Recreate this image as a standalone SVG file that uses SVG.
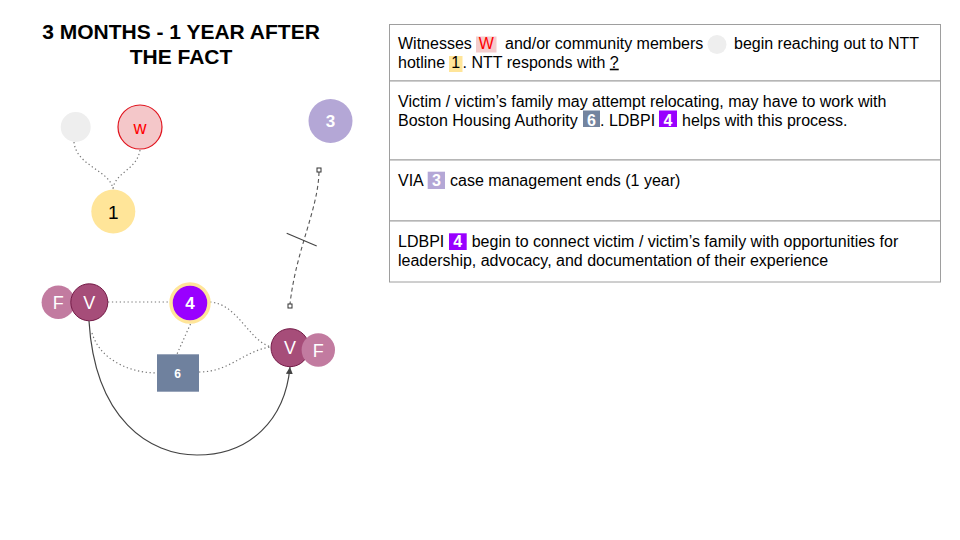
<svg xmlns="http://www.w3.org/2000/svg" width="960" height="540" viewBox="0 0 960 540">
<defs>
<style>
text{font-family:"Liberation Sans",Arial,sans-serif}
.title{font-size:21px;font-weight:bold;fill:#000;text-anchor:middle}
.t{font-size:16px;fill:#000}
.bw{font-size:16px;fill:#fff;font-weight:bold;text-anchor:middle}
.bk{font-size:16px;fill:#000;text-anchor:middle}
.nl{fill:#fff;text-anchor:middle}
.dot{fill:none;stroke:#777;stroke-width:1.2;stroke-dasharray:1.3 2.6}
.dash{fill:none;stroke:#555;stroke-width:1.1;stroke-dasharray:4 3}
.solid{fill:none;stroke:#444;stroke-width:1.2}
.vic{fill:#a64d79;stroke:#741b47;stroke-width:1}
.fam{fill:#c27ba0}
.cell{fill:#fff;stroke:#9e9e9e;stroke-width:1}
</style>
<marker id="arr" viewBox="0 0 10 10" refX="10" refY="5" markerWidth="7" markerHeight="7" markerUnits="userSpaceOnUse" orient="auto">
<path d="M0,0 L10,5 L0,10 z" fill="#444"/>
</marker>
</defs>
<rect width="960" height="540" fill="#fff"/>

<g id="title">
<text class="title" x="181" y="39">3 MONTHS - 1 YEAR AFTER</text>
<text class="title" x="181" y="64">THE FACT</text>
</g>

<g id="connectors">
<path class="dot" d="M74,142 C76,166 110,170 113,189"/>
<path class="dot" d="M140,150 C137,170 115,172 113,189"/>
<path class="dash" d="M319,172 C318,210 296,250 290,304"/>
<line x1="286.7" y1="233.3" x2="316.7" y2="246" stroke="#444" stroke-width="1.2"/>
<rect x="317" y="168" width="4" height="4" fill="#fff" stroke="#333" stroke-width="1"/>
<rect x="288" y="304" width="4" height="4" fill="#fff" stroke="#333" stroke-width="1"/>
<path class="dot" d="M108,302 L171,302"/>
<path class="dot" d="M210,302 C238,304 248,340 271,347"/>
<path class="dot" d="M190.5,324 L177,354"/>
<path class="dot" d="M92,333 C100,360 130,373 157,373"/>
<path class="dot" d="M199,372 C230,372 245,350 271,347"/>
<path class="solid" d="M89,321 C95,420 150,455 197,455 C250,455 285,420 290,367" marker-end="url(#arr)"/>
</g>

<g id="node-community">
<circle cx="75.7" cy="127" r="15" fill="#eeeeee"/>
</g>
<g id="node-w">
<circle cx="140" cy="127" r="22" fill="#f4c7c9" stroke="#e0141e" stroke-width="1.2"/>
<text x="140" y="134" font-size="18" fill="#ff0000" text-anchor="middle">w</text>
</g>
<g id="node-3">
<circle cx="330.5" cy="121" r="22" fill="#b4a7d6"/>
<text class="nl" x="330.5" y="127.3" font-size="17" font-weight="bold">3</text>
</g>
<g id="node-1">
<circle cx="113.3" cy="211.5" r="22" fill="#ffe599"/>
<text x="113.3" y="219" font-size="19" fill="#000" text-anchor="middle">1</text>
</g>
<g id="node-fv-left">
<circle class="fam" cx="58.3" cy="302.3" r="16.7"/>
<text class="nl" x="58.3" y="309" font-size="18">F</text>
<circle class="vic" cx="89.3" cy="302.3" r="18.5"/>
<text class="nl" x="89.3" y="309" font-size="18">V</text>
</g>
<g id="node-4">
<circle cx="190" cy="303" r="19" fill="#9900ff" stroke="#ffe599" stroke-width="3.5"/>
<text class="nl" x="190" y="309.3" font-size="17" font-weight="bold">4</text>
</g>
<g id="node-6">
<rect x="157" y="354.3" width="42" height="37.4" fill="#6f819e"/>
<text class="nl" x="177.5" y="377.7" font-size="12" font-weight="bold">6</text>
</g>
<g id="node-vf-right">
<circle class="vic" cx="290" cy="347.7" r="19"/>
<text class="nl" x="290" y="354.3" font-size="18">V</text>
<circle class="fam" cx="318.3" cy="350" r="16.7"/>
<text class="nl" x="318.3" y="356.7" font-size="18">F</text>
</g>

<g id="table">
<rect class="cell" x="389.5" y="24.5" width="551" height="56.5"/>
<rect class="cell" x="389.5" y="81" width="551" height="79"/>
<rect class="cell" x="389.5" y="160" width="551" height="61"/>
<rect class="cell" x="389.5" y="221" width="551" height="61"/>
</g>

<g id="row1">
<text class="t" x="398" y="48.5">Witnesses</text>
<rect x="476" y="36.5" width="20.5" height="16" fill="#f4cccc"/>
<text x="486.2" y="48.5" font-size="16" fill="#ff0000" text-anchor="middle">W</text>
<text class="t" x="505" y="48.5">and/or community members</text>
<circle cx="717" cy="44.5" r="9.5" fill="#eeeeee"/>
<text class="t" x="734" y="48.5">begin reaching out to NTT</text>
<text class="t" x="398" y="67.7">hotline</text>
<rect x="449" y="56" width="13.5" height="16" fill="#ffe599"/>
<text class="bk" x="455.7" y="67.7">1</text>
<text class="t" x="462.5" y="67.7">. NTT responds with <tspan text-decoration="underline">?</tspan></text>
</g>

<g id="row2">
<text class="t" x="398" y="106.5">Victim / victim’s family may attempt relocating, may have to work with</text>
<text class="t" x="398" y="125.5">Boston Housing Authority</text>
<rect x="583" y="110.5" width="17" height="16.5" fill="#73849f"/>
<text class="bw" x="591.5" y="125.5">6</text>
<text class="t" x="600" y="125.5">. LDBPI</text>
<rect x="659" y="110.5" width="18" height="16.5" fill="#9900ff"/>
<text class="bw" x="668" y="125.5">4</text>
<text class="t" x="682" y="125.5">helps with this process.</text>
</g>

<g id="row3">
<text class="t" x="398" y="185.7">VIA</text>
<rect x="427.7" y="171.7" width="17.3" height="17.3" fill="#b4a7d6"/>
<text class="bw" x="436.4" y="185.7">3</text>
<text class="t" x="450" y="185.7">case management ends (1 year)</text>
</g>

<g id="row4">
<text class="t" x="398" y="247">LDBPI</text>
<rect x="449" y="233.3" width="17.7" height="16.7" fill="#9900ff"/>
<text class="bw" x="457.8" y="247">4</text>
<text class="t" x="471.7" y="247">begin to connect victim / victim’s family with opportunities for</text>
<text class="t" x="398" y="266">leadership, advocacy, and documentation of their experience</text>
</g>
</svg>
